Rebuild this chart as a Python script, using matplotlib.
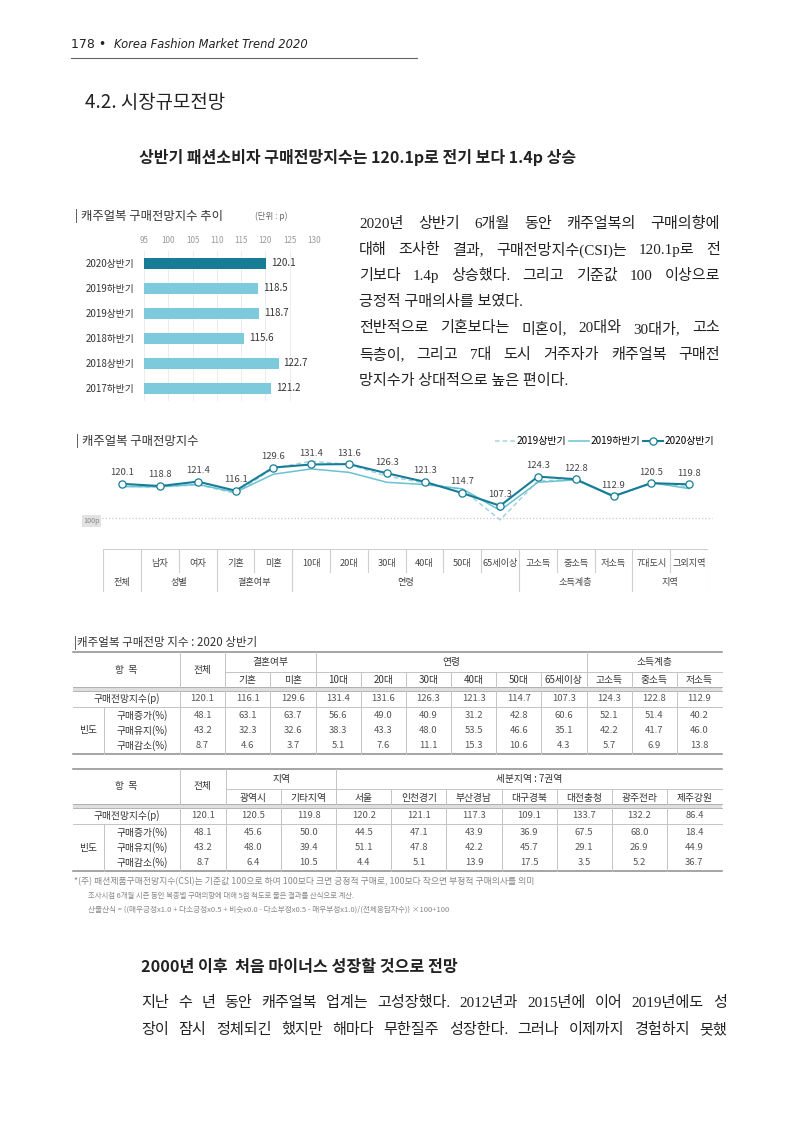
import numpy as np
import matplotlib.pyplot as plt
from matplotlib.patches import Rectangle

plt.rcParams['font.family'] = ['Noto Sans CJK KR', 'DejaVu Sans']

W, H = 800, 1131

# ---- data ----
bar_labels = ['2020상반기', '2019하반기', '2019상반기', '2018하반기', '2018상반기', '2017하반기']
bar_values = [120.1, 118.5, 118.7, 115.6, 122.7, 121.2]
bar_ticks = [95, 100, 105, 110, 115, 120, 125, 130]

line_cats = ['전체', '남자', '여자', '기혼', '미혼', '10대', '20대', '30대', '40대', '50대',
             '65세이상', '고소득', '중소득', '저소득', '7대도시', '그외지역']
csi_2020h1 = [120.1, 118.8, 121.4, 116.1, 129.6, 131.4, 131.6, 126.3, 121.3, 114.7,
              107.3, 124.3, 122.8, 112.9, 120.5, 119.8]
csi_2019h2 = [118.5, 118.4, 119.8, 115.2, 125.7, 128.8, 126.8, 121.0, 119.7, 117.2,
              104.6, 121.0, 122.4, 112.6, 120.8, 117.3]
csi_2019h1 = [118.7, 118.2, 119.6, 114.6, 129.2, 133.3, 131.4, 124.6, 120.6, 116.8,
              99.1, 121.8, 122.6, 113.2, 120.3, 118.4]
cat_groups = ['전체', '성별', '결혼여부', '연령', '소득계층', '지역']
cat_group_span = [(0, 0), (1, 2), (3, 4), (5, 10), (11, 13), (14, 15)]

freq_labels = ['구매증가(%)', '구매유지(%)', '구매감소(%)']
total_vals = [120.1, 48.1, 43.2, 8.7]

t1_cols = ['기혼', '미혼', '10대', '20대', '30대', '40대', '50대', '65세이상', '고소득', '중소득', '저소득']
t1_groups = [('결혼여부', 2), ('연령', 6), ('소득계층', 3)]
t1_csi = [116.1, 129.6, 131.4, 131.6, 126.3, 121.3, 114.7, 107.3, 124.3, 122.8, 112.9]
t1_inc = [63.1, 63.7, 56.6, 49.0, 40.9, 31.2, 42.8, 60.6, 52.1, 51.4, 40.2]
t1_keep = [32.3, 32.6, 38.3, 43.3, 48.0, 53.5, 46.6, 35.1, 42.2, 41.7, 46.0]
t1_dec = [4.6, 3.7, 5.1, 7.6, 11.1, 15.3, 10.6, 4.3, 5.7, 6.9, 13.8]

t2_cols = ['광역시', '기타지역', '서울', '인천경기', '부산경남', '대구경북', '대전충청', '광주전라', '제주강원']
t2_groups = [('지역', 2), ('세분지역 : 7권역', 7)]
t2_csi = [120.5, 119.8, 120.2, 121.1, 117.3, 109.1, 133.7, 132.2, 86.4]
t2_inc = [45.6, 50.0, 44.5, 47.1, 43.9, 36.9, 67.5, 68.0, 18.4]
t2_keep = [48.0, 39.4, 51.1, 47.8, 42.2, 45.7, 29.1, 26.9, 44.9]
t2_dec = [6.4, 10.5, 4.4, 5.1, 13.9, 17.5, 3.5, 5.2, 36.7]

para1 = ['2020년 상반기 6개월 동안 캐주얼복의 구매의향에',
         '대해 조사한 결과, 구매전망지수(CSI)는 120.1p로 전',
         '기보다 1.4p 상승했다. 그리고 기준값 100 이상으로',
         '긍정적 구매의사를 보였다.',
         '전반적으로 기혼보다는 미혼이, 20대와 30대가, 고소',
         '득층이, 그리고 7대 도시 거주자가 캐주얼복 구매전',
         '망지수가 상대적으로 높은 편이다.']
para1_last = [3, 6]
para2 = ['지난 수 년 동안 캐주얼복 업계는 고성장했다. 2012년과 2015년에 이어 2019년에도 성',
         '장이 잠시 정체되긴 했지만 해마다 무한질주 성장한다. 그러나 이제까지 경험하지 못했']
notes = ['*(주) 패션제품구매전망지수(CSI)는 기준값 100으로 하여 100보다 크면 긍정적 구매로, 100보다 작으면 부정적 구매의사를 의미',
         '조사시점 6개월 시즌 동안 복종별 구매의향에 대해 5점 척도로 물은 결과를 산식으로 계산.',
         '산출산식 = {(매우긍정x1.0 + 다소긍정x0.5 + 비슷x0.0 - 다소부정x0.5 - 매우부정x1.0)/(전체응답자수)} ×100+100']

DARK = '#177d97'
LIGHT = '#7ecadd'
SERIF = ['Liberation Serif', 'Noto Sans CJK KR']
BODY = 10.9

fig = plt.figure(figsize=(W / 100, H / 100), dpi=100)
renderer = fig.canvas.get_renderer()


def px(x0, y0, x1, y1):
    return [x0 / W, 1 - y1 / H, (x1 - x0) / W, (y1 - y0) / H]


ax0 = fig.add_axes([0, 0, 1, 1])
ax0.set_xlim(0, W)
ax0.set_ylim(H, 0)
ax0.axis('off')


def fit(x, y, s, width, **kw):
    t = ax0.text(x, y, s, va='center', **kw)
    w = t.get_window_extent(renderer).width
    t.set_fontsize(t.get_fontsize() * width / w)
    return t


def justify(s, x0, x1, y, size, **kw):
    words = s.split(' ')
    ts = [ax0.text(0, y, w, fontsize=size, va='center', ha='left', **kw) for w in words]
    ws = [t.get_window_extent(renderer).width for t in ts]
    gap = (x1 - x0 - sum(ws)) / max(len(ws) - 1, 1)
    x = x0
    for t, w in zip(ts, ws):
        t.set_x(x)
        x += w + gap


# ---- page header ----
ax0.text(71, 45, '178 •', fontsize=9, va='center', color='#222', family=['DejaVu Sans'])
fit(114, 45, 'Korea Fashion Market Trend 2020', 194, fontsize=9, style='italic',
    color='#222', family=['DejaVu Sans'])
ax0.plot([71, 417], [58, 58], color='#666', lw=0.8)
fit(85, 103, '4.2. 시장규모전망', 140, fontsize=13, weight='medium', color='#222')
fit(139, 158, '상반기 패션소비자 구매전망지수는 120.1p로 전기 보다 1.4p 상승', 436,
    fontsize=11, weight='bold', color='#222')

# ---- bar chart ----
fit(75, 216, '| 캐주얼복 구매전망지수 추이', 148, fontsize=8, color='#333')
fit(255, 216, '(단위 : p)', 32, fontsize=5, color='#666')
axb = fig.add_axes(px(144, 250.8, 314, 400.8))
yy = np.arange(len(bar_labels))
axb.barh(yy, bar_values, height=0.44, color=[DARK] + [LIGHT] * (len(bar_values) - 1))
axb.set_xlim(95, 130)
axb.set_ylim(len(bar_labels) - 0.5, -0.5)
axb.set_xticks(bar_ticks)
axb.xaxis.tick_top()
axb.set_yticks(yy)
axb.set_yticklabels(bar_labels)
axb.tick_params(axis='x', labelsize=5.8, colors='#999', length=0, pad=4)
axb.tick_params(axis='y', labelsize=7, colors='#333', length=0, pad=7)
axb.grid(axis='x', color='#e9e9e9', lw=0.6)
axb.set_axisbelow(True)
for s in axb.spines.values():
    s.set_visible(False)
for i, v in enumerate(bar_values):
    axb.annotate(f'{v:.1f}', (v, i), xytext=(3.5, 0), textcoords='offset points',
                 va='center', ha='left', fontsize=7, color='#333')

# ---- paragraph ----
for i, s in enumerate(para1):
    y = 224 + 26.1 * i
    if i in para1_last:
        ax0.text(359, y, s, fontsize=BODY, va='center', color='#222', family=SERIF)
    else:
        justify(s, 359, 720, y, BODY, color='#222', family=SERIF)

# ---- line chart ----
fit(76, 441, '| 캐주얼복 구매전망지수', 123, fontsize=8, color='#333')
axl = fig.add_axes(px(103.3, 450, 708, 535))
xs = np.arange(len(line_cats))
l1, = axl.plot(xs, csi_2019h1, color='#a3d3df', lw=1.1, ls=(0, (3, 2)))
l2, = axl.plot(xs, csi_2019h2, color='#68c2d1', lw=1.1)
l3, = axl.plot(xs, csi_2020h1, color=DARK, lw=1.5, marker='o', ms=5.2,
               mfc='white', mec=DARK, mew=0.9)
axl.plot([-0.535, 15.6], [100, 100], color='#c8c8c8', ls=':', lw=0.9, clip_on=False)
axl.set_xlim(-0.5, len(line_cats) - 0.5)
axl.set_ylim(90.26, 139.83)
axl.axis('off')
for x, v in zip(xs, csi_2020h1):
    axl.annotate(f'{v:.1f}', (x, v), xytext=(0, 8), textcoords='offset points',
                 ha='center', va='center', fontsize=6.8, color='#444')
ax0.text(91.5, 521, '100p', fontsize=5.2, color='#888', ha='center', va='center',
         bbox=dict(fc='#e2e2e2', ec='none', pad=1.2))
fig.legend([l1, l2, l3], ['2019상반기', '2019하반기', '2020상반기'], loc='center right',
           bbox_to_anchor=(714 / W, 1 - 441 / H), ncol=3, frameon=False, fontsize=7.2,
           handlelength=2.0, handletextpad=0.15, columnspacing=0.3,
           borderaxespad=0, borderpad=0)

# category strip under the line chart
axs = fig.add_axes(px(103.3, 549, 708, 592))
axs.set_xlim(-0.5, len(line_cats) - 0.5)
axs.set_ylim(0, 1)
axs.axis('off')
axs.axhline(1, color='#cfcfcf', lw=0.8)
group_bounds = sorted({a - 0.5 for a, b in cat_group_span} | {len(line_cats) - 0.5})
for j in range(len(line_cats) + 1):
    xb = j - 0.5
    ymin = 0 if xb in group_bounds else 0.47
    axs.axvline(xb, ymin=ymin, ymax=1, color='#cfcfcf', lw=0.8)
for i, c in enumerate(line_cats):
    if i > 0:
        axs.text(i, 0.67, c, ha='center', va='center', fontsize=6.6, color='#444')
for g, (a, b) in zip(cat_groups, cat_group_span):
    axs.text((a + b) / 2, 0.23, g, ha='center', va='center', fontsize=6.6, color='#444')


# ---- tables ----
def draw_table(top, total_right, right, cols, groups, csi, inc, keep, dec):
    L, item_r, split = 73, 180, 104
    edges = np.linspace(total_right, right, len(cols) + 1)
    y_r1, y_mid, y_r2 = top + 10, top + 19.5, top + 28.5
    b0, b1 = top + 35, top + 38.5
    y_main, y_line = top + 46.5, top + 55
    y_rows = [top + 63.5, top + 78.5, top + 93.5]
    bottom = top + 101.5
    lc = '#c4c4c4'
    ax0.plot([L, right], [top, top], color='#8c8c8c', lw=1.1)
    ax0.plot([L, right], [bottom, bottom], color='#8c8c8c', lw=1.1)
    ax0.add_patch(Rectangle((L, b0), right - L, b1 - b0, fc='#dedede', ec='none'))
    ax0.plot([L, right], [b0, b0], color='#a8a8a8', lw=0.6)
    ax0.plot([L, right], [b1, b1], color='#a8a8a8', lw=0.6)
    ax0.plot([L, right], [y_line, y_line], color=lc, lw=0.7)
    ax0.plot([total_right, right], [y_mid, y_mid], color=lc, lw=0.7)
    gb = [0]
    for g, n in groups:
        gb.append(gb[-1] + n)
    for x in [item_r, total_right] + [edges[k] for k in gb[1:-1]]:
        ax0.plot([x, x], [top, b0], color=lc, lw=0.7)
    for x in edges[1:-1]:
        ax0.plot([x, x], [y_mid, b0], color=lc, lw=0.7)
    for x in [item_r] + list(edges[:-1]):
        ax0.plot([x, x], [b1, bottom], color=lc, lw=0.7)
    ax0.plot([split, split], [y_line, bottom], color=lc, lw=0.7)

    kw = dict(ha='center', va='center', fontsize=7, color='#333')
    ax0.text((L + item_r) / 2, (top + b0) / 2, '항  목', **kw)
    ax0.text((item_r + total_right) / 2, (top + b0) / 2, '전체', **kw)
    for (g, n), a, b in zip(groups, gb[:-1], gb[1:]):
        ax0.text((edges[a] + edges[b]) / 2, y_r1, g, **kw)
    centers = (edges[:-1] + edges[1:]) / 2
    for c, x in zip(cols, centers):
        ax0.text(x, y_r2, c, **kw)
    ax0.text((L + item_r) / 2, y_main, '구매전망지수(p)', **kw)
    ax0.text((L + split) / 2, y_rows[1], '빈도', **kw)
    for lab, y in zip(freq_labels, y_rows):
        ax0.text((split + item_r) / 2, y, lab, **kw)

    vk = dict(ha='center', va='center', fontsize=6.8, color='#555')
    tx = (item_r + total_right) / 2
    for v, y in zip(total_vals, [y_main] + y_rows):
        ax0.text(tx, y, f'{v:.1f}', **vk)
    for series, y in zip([csi, inc, keep, dec], [y_main] + y_rows):
        for v, x in zip(series, centers):
            ax0.text(x, y, f'{v:.1f}', **vk)


fit(74, 643, '|캐주얼복 구매전망 지수 : 2020 상반기', 183, fontsize=7.5, color='#333')
draw_table(652, 225.2, 722, t1_cols, t1_groups, t1_csi, t1_inc, t1_keep, t1_dec)
draw_table(769, 226, 722, t2_cols, t2_groups, t2_csi, t2_inc, t2_keep, t2_dec)

fit(74, 882, notes[0], 460, fontsize=5.5, color='#888')
fit(88, 896, notes[1], 268, fontsize=5.5, color='#888')
fit(88, 910, notes[2], 362, fontsize=5.5, color='#888')

# ---- bottom section ----
fit(141, 967, '2000년 이후  처음 마이너스 성장할 것으로 전망', 315, fontsize=11,
    weight='bold', color='#222')
for i, s in enumerate(para2):
    justify(s, 141, 727, 1003 + 27 * i, BODY, color='#222', family=SERIF)

fig.savefig('out.png', dpi=100)
